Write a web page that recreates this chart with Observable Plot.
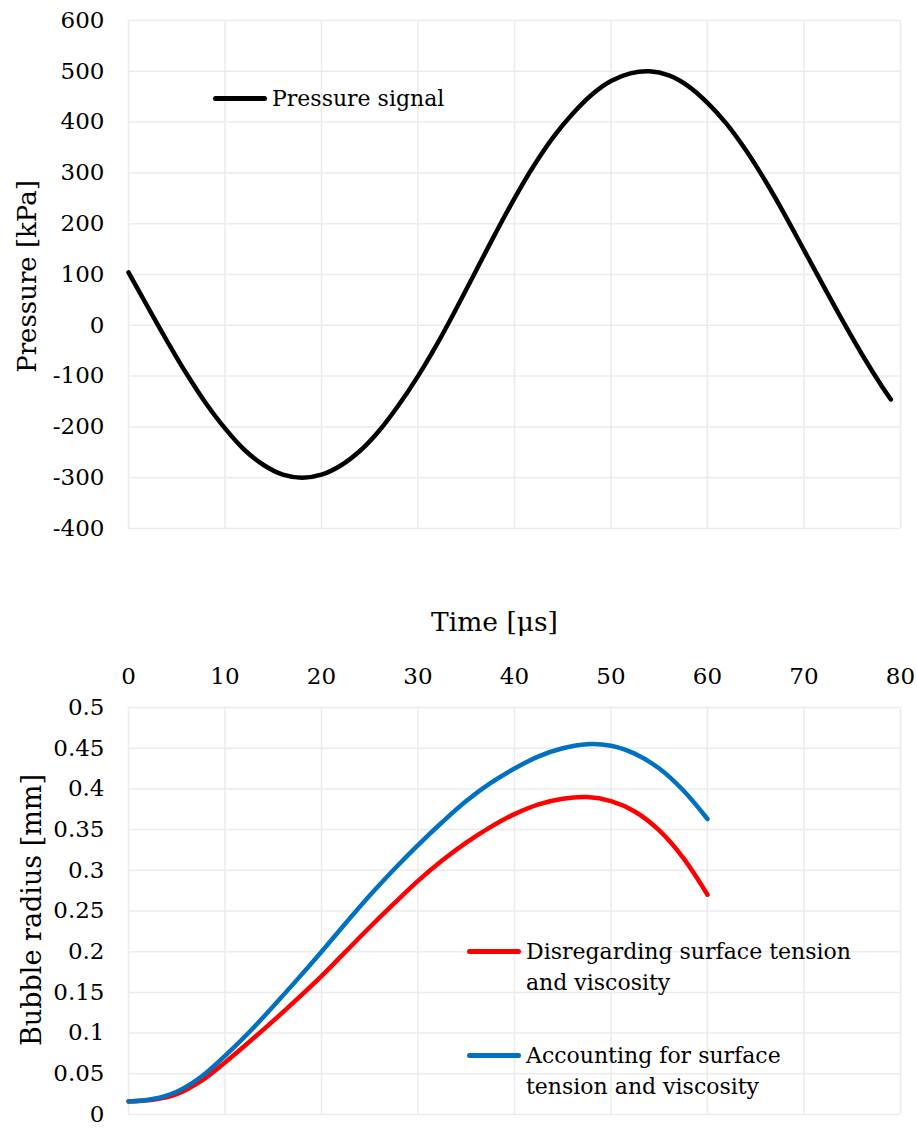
<!DOCTYPE html>
<html>
<head>
<meta charset="utf-8">
<script src="https://cdn.jsdelivr.net/npm/d3@7"></script>
<script src="https://cdn.jsdelivr.net/npm/@observablehq/plot@0.6"></script>
<style>
html, body { margin: 0; padding: 0; background: #fff; }
#wrap { position: relative; width: 917px; height: 1128px; font-family: "DejaVu Serif", serif; color: #000; overflow: hidden; }
#wrap svg { position: absolute; left: 0; overflow: visible; }
.leg { position: absolute; font-size: 22px; line-height: 31px; color: #000; white-space: nowrap; }
.sw { position: absolute; height: 5px; width: 54px; border-radius: 3px; }
</style>
</head>
<body>
<div id="wrap"></div>
<script>
// ---- data ----
const timeTicks = [0, 10, 20, 30, 40, 50, 60, 70, 80];
const pressureTicks = [-400, -300, -200, -100, 0, 100, 200, 300, 400, 500, 600];
const radiusTicks = [0, 0.05, 0.1, 0.15, 0.2, 0.25, 0.3, 0.35, 0.4, 0.45, 0.5];

const pressureTime = [0, 2, 4, 6, 8, 10, 12, 14, 16, 18, 20, 22, 24, 26, 28, 30, 32, 34, 36, 38, 40,
  42, 44, 46, 48, 50, 52, 54, 56, 58, 60, 62, 64, 66, 68, 70, 72, 74, 76, 78, 79];
const pressureValues = [104, 36, -31, -95, -153, -203, -245, -275, -294, -300, -294, -276, -247, -207, -157, -100, -36, 34, 107, 180, 250,
  314, 370, 416, 454, 481, 496, 500, 492, 471, 438, 396, 344, 284, 218, 148, 78, 9, -57, -118, -146];

const radiusTime = [0, 2.5, 5, 7.5, 10, 12.5, 15, 17.5, 20, 22.5, 25, 27.5, 30, 32.5, 35, 37.5, 40, 42.5, 45, 47.5, 50, 52.5, 55, 57.5, 60];
const radiusNoTension = [0.016, 0.018, 0.025, 0.041, 0.064, 0.089, 0.115, 0.142, 0.17, 0.2, 0.23, 0.259, 0.287, 0.312, 0.334, 0.353, 0.369, 0.381, 0.388, 0.39, 0.385, 0.372, 0.349, 0.315, 0.27];
const radiusWithTension = [0.016, 0.019, 0.028, 0.046, 0.072, 0.101, 0.133, 0.166, 0.2, 0.235, 0.269, 0.301, 0.331, 0.359, 0.385, 0.407, 0.425, 0.44, 0.45, 0.455, 0.453, 0.443, 0.425, 0.398, 0.363];

const seriesNames = ["Disregarding surface tension\nand viscosity", "Accounting for surface\ntension and viscosity"];
const seriesColors = ["#ff0000", "#0070c0"];
const pressureName = "Pressure signal";

// ---- tables ----
const pressureData = pressureTime.map((t, i) => ({t, p: pressureValues[i]}));
const radiusData = [
  ...radiusTime.map((t, i) => ({t, r: radiusNoTension[i], s: seriesNames[0]})),
  ...radiusTime.map((t, i) => ({t, r: radiusWithTension[i], s: seriesNames[1]}))
];

const gridStyle = {stroke: "#ebebeb", strokeOpacity: 1, strokeWidth: 1.5};
const fmt = d => String(d);
const font = "DejaVu Serif";

const wrap = document.getElementById("wrap");

// ---- top chart: pressure ----
const topChart = Plot.plot({
  width: 917,
  height: 560,
  marginTop: 20,
  marginBottom: 32,
  marginLeft: 128,
  marginRight: 17,
  style: {fontFamily: font, color: "#000", background: "transparent", overflow: "visible"},
  x: {domain: [0, 80], axis: null},
  y: {domain: [-400, 600], axis: null},
  marks: [
    Plot.gridX(timeTicks, gridStyle),
    Plot.gridY(pressureTicks, gridStyle),
    Plot.axisY(pressureTicks, {tickSize: 0, tickPadding: 24, fontSize: 23, tickFormat: fmt, label: null}),
    Plot.text(["Pressure [kPa]"], {frameAnchor: "left", textAnchor: "middle", dx: -101, dy: 2, rotate: -90, fontSize: 26, text: d => d}),
    Plot.line(pressureData, {x: "t", y: "p", stroke: "#000", strokeWidth: 4.5, curve: "catmull-rom", strokeLinecap: "round"})
  ]
});
topChart.style.top = "0px";
wrap.appendChild(topChart);

// ---- bottom chart: bubble radius ----
const bottomChart = Plot.plot({
  width: 917,
  height: 568,
  marginTop: 147,
  marginBottom: 14,
  marginLeft: 128,
  marginRight: 17,
  style: {fontFamily: font, color: "#000", background: "transparent", overflow: "visible"},
  x: {domain: [0, 80], axis: null},
  y: {domain: [0, 0.5], axis: null},
  color: {domain: seriesNames, range: seriesColors},
  marks: [
    Plot.gridX(timeTicks, gridStyle),
    Plot.gridY(radiusTicks, gridStyle),
    Plot.axisX(timeTicks, {anchor: "top", tickSize: 0, tickPadding: 24, fontSize: 23, tickFormat: fmt, label: null}),
    Plot.axisY(radiusTicks, {tickSize: 0, tickPadding: 24, fontSize: 23, tickFormat: fmt, label: null}),
    Plot.text(["Time [μs]"], {frameAnchor: "top", textAnchor: "middle", dx: -20, dy: -95, fontSize: 26.5, text: d => d}),
    Plot.text(["Bubble radius [mm]"], {frameAnchor: "left", textAnchor: "middle", dx: -96, dy: -1, rotate: -90, fontSize: 27, text: d => d}),
    Plot.line(radiusData, {x: "t", y: "r", stroke: "s", z: "s", strokeWidth: 4.5, curve: "catmull-rom", strokeLinecap: "round"})
  ]
});
bottomChart.style.top = "560px";
wrap.appendChild(bottomChart);

// ---- legends (HTML) ----
function legend(name, color, swLeft, cy, textLeft) {
  const sw = document.createElement("div");
  sw.className = "sw";
  sw.style.left = swLeft + "px";
  sw.style.top = (cy - 2.5) + "px";
  sw.style.background = color;
  wrap.appendChild(sw);
  const tx = document.createElement("div");
  tx.className = "leg";
  tx.style.left = textLeft + "px";
  tx.style.top = (cy - 15.5) + "px";
  tx.innerHTML = name.split("\n").join("<br>");
  wrap.appendChild(tx);
}
legend(pressureName, "#000", 213, 98, 272);
legend(seriesNames[0], seriesColors[0], 467, 951, 526);
legend(seriesNames[1], seriesColors[1], 467, 1055, 526);
</script>
</body>
</html>
